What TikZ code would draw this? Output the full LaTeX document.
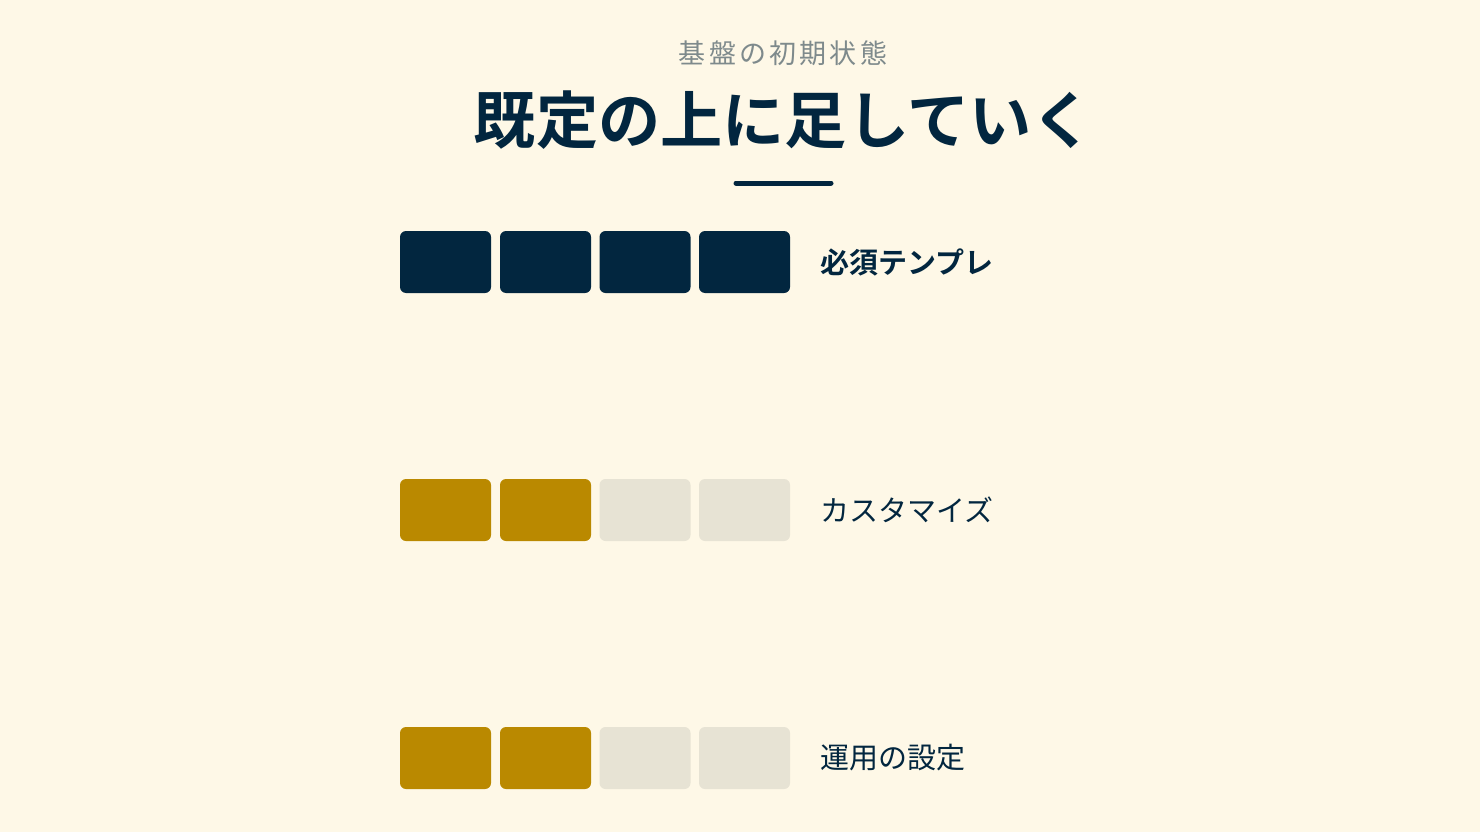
\documentclass[tikz,border=0pt]{standalone}
\usepackage{fontspec}
\setmainfont{Noto Sans CJK JP}
\newfontfamily\jpbold{Noto Sans CJK JP Bold}
\newfontfamily\jpsub[LetterSpace=12]{Noto Sans CJK JP}
\definecolor{bg}{HTML}{FEF8E7}
\definecolor{navy}{HTML}{02263F}
\definecolor{gold}{HTML}{BA8900}
\definecolor{pale}{HTML}{E7E3D4}
\definecolor{subgray}{HTML}{7E8A8C}
\tikzset{
  cell/.style={rounded corners=6pt, minimum width=91pt, minimum height=62pt, inner sep=0pt, draw=none},
  dark/.style={cell, fill=navy},
  filled/.style={cell, fill=gold},
  empty/.style={cell, fill=pale},
  lbl/.style={anchor=west, inner sep=0pt, text=navy, font=\fontsize{29}{32}\selectfont},
}
\begin{document}
\begin{tikzpicture}[x=1pt,y=-1pt]
\fill[bg] (0,0) rectangle (1480,832);
\useasboundingbox (0,0) rectangle (1480,832);
\node[text=subgray, font=\jpsub\fontsize{27}{30}\selectfont, inner sep=0pt] (sub) at (783,53) {基盤の初期状態};
\node[text=navy, font=\jpbold\fontsize{62.2}{70}\selectfont, inner sep=0pt] (title) at (784,120) {既定の上に足していく};
\coordinate (r1) at (736,183);
\coordinate (r2) at (831,183);
\draw[navy, line width=5pt, line cap=round] (r1) -- (r2);
% row 1
\node[dark] (a1) at (445.5,262) {};
\node[dark] (a2) at (545.5,262) {};
\node[dark] (a3) at (645,262) {};
\node[dark] (a4) at (744.5,262) {};
\node[lbl, font=\jpbold\fontsize{29}{32}\selectfont] (la) at (820,262) {必須テンプレ};
% row 2
\node[filled] (b1) at (445.5,510) {};
\node[filled] (b2) at (545.5,510) {};
\node[empty] (b3) at (645,510) {};
\node[empty] (b4) at (744.5,510) {};
\node[lbl] (lb) at (820,510) {カスタマイズ};
% row 3
\node[filled] (c1) at (445.5,758) {};
\node[filled] (c2) at (545.5,758) {};
\node[empty] (c3) at (645,758) {};
\node[empty] (c4) at (744.5,758) {};
\node[lbl] (lc) at (820,758) {運用の設定};
\end{tikzpicture}
\end{document}
